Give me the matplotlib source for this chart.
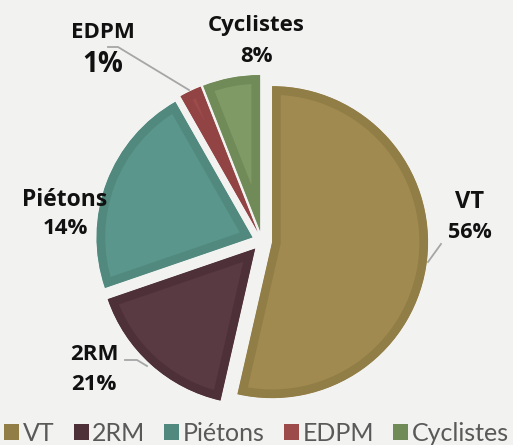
import matplotlib.pyplot as plt
from matplotlib.patches import Patch

# =========================================================
# DATA
# =========================================================

categories = ["VT", "2RM", "Piétons", "EDPM", "Cyclistes"]
# slice sizes as drawn in the picture (labels below are the printed ones)
sizes = [54.0, 16.3, 22.2, 2.3, 6.0]
pct_labels = ["56%", "21%", "14%", "1%", "8%"]

fill_colors = ["#a08a50", "#5a3a42", "#5a968b", "#9c4a4a", "#809a66"]
edge_colors = ["#917d46", "#4e3138", "#51897e", "#924444", "#708a58"]
legend_colors = ["#917d46", "#4e3138", "#51897e", "#9c4a4a", "#708a58"]

bg = "#f2f2f0"

# =========================================================
# FIGURE
# =========================================================

W, H = 513, 445
cx, cy, R = 262, 241, 156   # pie centre / radius in pixels

fig = plt.figure(figsize=(W / 100, H / 100), dpi=100)
fig.patch.set_facecolor(bg)
ax = fig.add_axes([0, 0, 1, 1])
ax.set_facecolor(bg)


def px(x, y):
    # pixel position -> data position
    return (x - cx) / R, (cy - y) / R


wedges, _ = ax.pie(
    sizes,
    colors=fill_colors,
    startangle=90,
    counterclock=False,
    radius=1.0,
    explode=[0.065] * len(sizes),
)

for w, ec in zip(wedges, edge_colors):
    w.set_edgecolor(ec)
    w.set_linewidth(12.5)
    w.set_joinstyle("miter")
    w.set_clip_path(w)   # keep the darker rim inside the slice
    w.set_clip_on(True)

# pie() resets the limits, so set them afterwards
ax.set_xlim(-cx / R, (W - cx) / R)
ax.set_ylim(-(H - cy) / R, cy / R)
ax.axis("off")

# =========================================================
# LABELS
# =========================================================

font = "Open Sans"
lab_kw = dict(ha="center", va="center", fontweight="bold", color="#111111", family=font)
line_kw = dict(color="#a6a6a6", lw=1.3)

ax.text(*px(470, 202), "VT", fontsize=17, **lab_kw)
ax.text(*px(470, 232), pct_labels[0], fontsize=15.5, **lab_kw)
ax.plot(*zip(px(428, 262), px(441, 244)), **line_kw)

ax.text(*px(94, 355), "2RM", fontsize=16, **lab_kw)
ax.text(*px(94, 384), pct_labels[1], fontsize=16, **lab_kw)
ax.plot(*zip(px(125, 360), px(137, 360), px(147, 366)), **line_kw)

ax.text(*px(65, 200), "Piétons", fontsize=16.5, **lab_kw)
ax.text(*px(65, 229), pct_labels[2], fontsize=16, **lab_kw)

ax.text(*px(103, 32), "EDPM", fontsize=16, **lab_kw)
ax.text(*px(103, 65), pct_labels[3], fontsize=20, **lab_kw)
ax.plot(*zip(px(108, 47), px(118, 47), px(189, 90)), **line_kw)

ax.text(*px(256, 25), "Cyclistes", fontsize=16, **lab_kw)
ax.text(*px(256, 56), pct_labels[4], fontsize=16, **lab_kw)

# =========================================================
# LEGEND
# =========================================================

handles = [Patch(facecolor=c, edgecolor="none") for c in legend_colors]
fig.legend(
    handles,
    categories,
    loc="lower center",
    bbox_to_anchor=(0.5, -0.022),
    ncol=5,
    frameon=False,
    prop={"family": "Lato", "size": 18},
    labelcolor="#595959",
    handlelength=0.6,
    handleheight=0.6,
    handletextpad=0.15,
    columnspacing=0.75,
    borderaxespad=0.0,
)

fig.savefig("out.png", dpi=100, facecolor=bg)
